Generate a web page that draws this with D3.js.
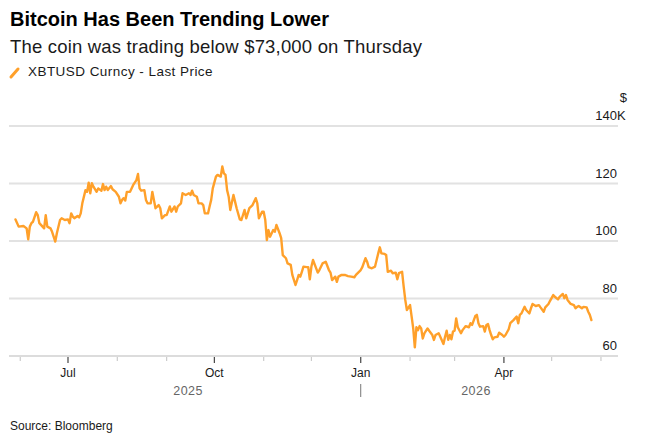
<!DOCTYPE html>
<html><head><meta charset="utf-8">
<script src="https://cdn.jsdelivr.net/npm/d3@7"></script>
<style>
body{margin:0;background:#fff}
svg{display:block}
text{font-family:"Liberation Sans",Arial,Helvetica,sans-serif}
</style>
</head><body><svg id="c" width="649" height="441"></svg>
<script>
const titleText = "Bitcoin Has Been Trending Lower";
const subtitleText = "The coin was trading below $73,000 on Thursday";
const legendLabel = "XBTUSD Curncy - Last Price";
const sourceText = "Source: Bloomberg";
const yTicks = [60, 80, 100, 120, 140];
const yUnit = "$";
const majorMonths = ["2025-07-01","2025-10-01","2026-01-01","2026-04-01"];
const monthLabels = ["Jul","Oct","Jan","Apr"];
const yearLabels = ["2025","2026"];

const dates = [
"2025-05-29","2025-05-31","2025-06-03","2025-06-05","2025-06-06","2025-06-07","2025-06-08","2025-06-09","2025-06-11","2025-06-12",
"2025-06-13","2025-06-15","2025-06-16","2025-06-17","2025-06-18","2025-06-20","2025-06-21","2025-06-23","2025-06-24","2025-06-26",
"2025-06-27","2025-06-29","2025-07-01","2025-07-02","2025-07-03","2025-07-04","2025-07-05","2025-07-07","2025-07-08","2025-07-09",
"2025-07-10","2025-07-12","2025-07-13","2025-07-14","2025-07-15","2025-07-16","2025-07-17","2025-07-19","2025-07-20","2025-07-22",
"2025-07-23","2025-07-24","2025-07-25","2025-07-26","2025-07-28","2025-07-29","2025-07-31","2025-08-02","2025-08-03","2025-08-04",
"2025-08-05","2025-08-06","2025-08-07","2025-08-09","2025-08-11","2025-08-13","2025-08-14","2025-08-15","2025-08-16","2025-08-18",
"2025-08-19","2025-08-20","2025-08-22","2025-08-23","2025-08-24","2025-08-25","2025-08-27","2025-08-28","2025-08-29","2025-08-31",
"2025-09-01","2025-09-03","2025-09-04","2025-09-06","2025-09-07","2025-09-08","2025-09-10","2025-09-11","2025-09-13","2025-09-15",
"2025-09-16","2025-09-17","2025-09-18","2025-09-20","2025-09-21","2025-09-23","2025-09-24","2025-09-25","2025-09-27","2025-09-28",
"2025-09-29","2025-09-30","2025-10-02","2025-10-03","2025-10-05","2025-10-06","2025-10-07","2025-10-08","2025-10-09","2025-10-10",
"2025-10-11","2025-10-13","2025-10-14","2025-10-15","2025-10-17","2025-10-18","2025-10-20","2025-10-21","2025-10-23","2025-10-25",
"2025-10-27","2025-10-28","2025-10-29","2025-10-31","2025-11-01","2025-11-02","2025-11-03","2025-11-04","2025-11-05","2025-11-07",
"2025-11-08","2025-11-09","2025-11-11","2025-11-12","2025-11-13","2025-11-15","2025-11-16","2025-11-18","2025-11-19","2025-11-21",
"2025-11-22","2025-11-23","2025-11-24","2025-11-25","2025-11-26","2025-11-28","2025-11-29","2025-11-30","2025-12-01","2025-12-02",
"2025-12-04","2025-12-05","2025-12-06","2025-12-08","2025-12-10","2025-12-12","2025-12-13","2025-12-14","2025-12-16","2025-12-17",
"2025-12-18","2025-12-20","2025-12-22","2025-12-24","2025-12-26","2025-12-28","2025-12-29","2026-01-01","2026-01-02","2026-01-04",
"2026-01-05","2026-01-06","2026-01-08","2026-01-10","2026-01-12","2026-01-13","2026-01-14","2026-01-16","2026-01-17","2026-01-18",
"2026-01-20","2026-01-21","2026-01-23","2026-01-24","2026-01-25","2026-01-27","2026-01-28","2026-01-29","2026-01-30","2026-02-01",
"2026-02-02","2026-02-03","2026-02-04","2026-02-05","2026-02-06","2026-02-07","2026-02-08","2026-02-09","2026-02-10","2026-02-12",
"2026-02-13","2026-02-15","2026-02-16","2026-02-17","2026-02-19","2026-02-20","2026-02-22","2026-02-23","2026-02-24","2026-02-25",
"2026-02-26","2026-02-27","2026-02-28","2026-03-01","2026-03-02","2026-03-03","2026-03-05","2026-03-06","2026-03-08","2026-03-10",
"2026-03-11","2026-03-12","2026-03-14","2026-03-15","2026-03-16","2026-03-17","2026-03-19","2026-03-20","2026-03-21","2026-03-22",
"2026-03-23","2026-03-24","2026-03-25","2026-03-26","2026-03-28","2026-03-29","2026-03-31","2026-04-01","2026-04-02","2026-04-04",
"2026-04-05","2026-04-07","2026-04-09","2026-04-10","2026-04-11","2026-04-12","2026-04-14","2026-04-15","2026-04-17","2026-04-18",
"2026-04-19","2026-04-21","2026-04-23","2026-04-24","2026-04-26","2026-04-27","2026-04-29","2026-04-30","2026-05-02","2026-05-03",
"2026-05-05","2026-05-06","2026-05-08","2026-05-09","2026-05-10","2026-05-11","2026-05-13","2026-05-15","2026-05-16","2026-05-17",
"2026-05-18","2026-05-20","2026-05-21","2026-05-23","2026-05-24","2026-05-25","2026-05-26"
];
// Last price, thousands of USD
const prices = [
107.5,105.0,105.2,104.4,100.6,105.0,106.2,106.7,110.0,109.0,
106.2,105.0,104.4,109.0,105.0,104.4,103.2,99.8,102.7,107.3,
107.9,107.3,107.5,106.2,109.6,108.5,107.9,108.7,108.2,109.6,
113.1,117.7,117.1,120.3,116.6,120.1,118.9,117.1,118.3,117.5,
119.8,117.7,118.9,117.7,119.1,118.0,117.1,115.4,113.1,114.3,
114.9,114.1,117.1,117.1,119.5,121.2,123.3,118.3,117.5,117.7,
114.3,113.1,113.1,117.1,114.3,111.4,112.5,111.4,107.9,109.0,
109.0,112.0,110.2,112.0,110.2,112.0,113.1,116.6,116.0,116.6,
116.0,117.5,116.0,115.4,113.1,113.1,112.5,109.6,109.6,112.0,
114.3,118.3,122.4,123.0,122.4,125.9,123.5,123.0,117.7,115.4,
110.8,116.0,113.7,111.4,107.5,107.3,110.8,107.9,111.4,112.5,
114.9,113.1,107.9,110.2,110.2,107.3,100.3,103.8,101.5,103.8,
103.2,105.6,102.7,101.0,95.1,94.0,92.2,91.7,88.2,84.7,
86.4,88.2,87.6,89.3,91.1,90.9,90.9,86.7,91.1,93.4,
90.5,89.0,89.9,92.2,92.8,89.9,89.0,86.4,87.6,85.8,
87.6,88.2,88.2,87.8,87.6,87.4,88.2,89.9,90.9,94.0,
92.8,90.9,90.5,91.1,95.7,97.8,95.7,95.5,95.1,89.3,
89.7,88.8,89.0,86.7,88.8,89.3,84.1,79.5,76.0,77.7,
73.7,69.6,63.0,70.0,69.0,70.4,69.6,66.1,67.9,69.6,
68.8,67.3,65.6,67.3,67.9,66.7,64.2,66.7,68.8,65.6,
67.3,65.8,68.5,68.8,73.1,70.0,67.9,69.0,70.4,70.0,
71.4,70.8,73.9,74.3,71.4,70.2,70.4,68.5,70.8,71.1,
69.0,67.3,65.8,66.5,66.7,68.1,67.3,66.7,67.3,69.3,
71.4,72.5,73.7,71.4,74.3,74.8,77.1,76.0,74.8,76.6,
78.1,77.4,77.7,76.9,75.4,76.9,78.1,79.2,81.2,80.6,
79.7,80.6,81.6,80.1,81.2,79.5,78.1,77.7,76.6,77.1,
77.4,76.6,77.1,76.9,75.4,74.3,72.5
];

(function () {
const parse = d3.utcParse("%Y-%m-%d");
const data = dates.map((d, i) => ({date: parse(d), value: prices[i]}));

const orange = "#ffa02a";
const svg = d3.select("#c");
const plotLeft = 9, plotRight = 618, plotTop = 126, plotBottom = 356;

const x = d3.scaleUtc()
  .domain([new Date(Date.UTC(2025, 4, 24, 22)), new Date(Date.UTC(2026, 5, 11, 17))])
  .range([plotLeft, plotRight]);
const y = d3.scaleLinear().domain([60, 140]).range([plotBottom, plotTop]);

// Title block
svg.append("text").attr("x", 10).attr("y", 26).attr("font-size", 20).attr("font-weight", "bold")
  .attr("fill", "#000").text(titleText);
svg.append("text").attr("x", 10).attr("y", 53).attr("font-size", 18.5).attr("letter-spacing", 0.18)
  .attr("fill", "#1a1a1a").text(subtitleText);
svg.append("line").attr("x1", 11).attr("y1", 77).attr("x2", 18).attr("y2", 69)
  .attr("stroke", orange).attr("stroke-width", 3).attr("stroke-linecap", "round");
svg.append("text").attr("x", 28).attr("y", 76).attr("font-size", 13.5).attr("letter-spacing", 0.45)
  .attr("fill", "#1a1a1a").text(legendLabel);

// Gridlines
svg.append("g").selectAll("line").data(yTicks.filter(v => v > 60)).join("line")
  .attr("x1", plotLeft).attr("x2", plotRight).attr("y1", d => y(d)).attr("y2", d => y(d))
  .attr("stroke", "#e2e2e2").attr("stroke-width", 2);

// Y labels
const yl = svg.append("g").attr("font-size", 13).attr("fill", "#1a1a1a");
yl.selectAll("text.n").data(yTicks).join("text").attr("class", "n")
  .attr("x", 617).attr("y", d => y(d) - 6).attr("text-anchor", "end").text(d => d);
yl.append("text").attr("x", 617).attr("y", y(yTicks[yTicks.length - 1]) - 6).text("K");
yl.append("text").attr("x", 627).attr("y", 102).attr("text-anchor", "end").text(yUnit);

// Line
svg.append("path").datum(data)
  .attr("d", d3.line().x(d => x(d.date)).y(d => y(d.value)))
  .attr("fill", "none").attr("stroke", orange).attr("stroke-width", 2.4)
  .attr("stroke-linejoin", "round").attr("stroke-linecap", "round");

// X axis
svg.append("line").attr("x1", plotLeft).attr("x2", plotRight).attr("y1", plotBottom).attr("y2", plotBottom)
  .attr("stroke", "#dcdcdc").attr("stroke-width", 2);
const months = d3.utcMonth.range(x.domain()[0], x.domain()[1]);
const majorSet = new Set(majorMonths);
const fmt = d3.utcFormat("%Y-%m-%d");
svg.append("g").selectAll("line").data(months).join("line")
  .attr("x1", d => x(d)).attr("x2", d => x(d))
  .attr("y1", plotBottom + 1).attr("y2", d => majorSet.has(fmt(d)) ? plotBottom + 7 : plotBottom + 5)
  .attr("stroke", d => majorSet.has(fmt(d)) ? "#444" : "#cccccc").attr("stroke-width", 1.2);
svg.append("g").selectAll("text").data(majorMonths).join("text")
  .attr("x", d => x(parse(d))).attr("y", 377).attr("text-anchor", "middle")
  .attr("font-size", 12).attr("fill", "#1a1a1a").text((d, i) => monthLabels[i]);

// Year labels, centred on each year's span of data
const yearStart = parse("2026-01-01");
const first = data[0].date, last = data[data.length - 1].date;
const yearCenters = [(x(first) + x(yearStart)) / 2, (x(yearStart) + x(last)) / 2];
svg.append("g").selectAll("text").data(yearLabels).join("text")
  .attr("x", (d, i) => yearCenters[i]).attr("y", 395).attr("text-anchor", "middle")
  .attr("font-size", 12.5).attr("fill", "#666").attr("letter-spacing", 0.5).text(d => d);
svg.append("line").attr("x1", x(yearStart)).attr("x2", x(yearStart)).attr("y1", 384).attr("y2", 397)
  .attr("stroke", "#777").attr("stroke-width", 1);

// Source
svg.append("text").attr("x", 10).attr("y", 430).attr("font-size", 12).attr("fill", "#1a1a1a").text(sourceText);
})();
</script>
</body></html>
